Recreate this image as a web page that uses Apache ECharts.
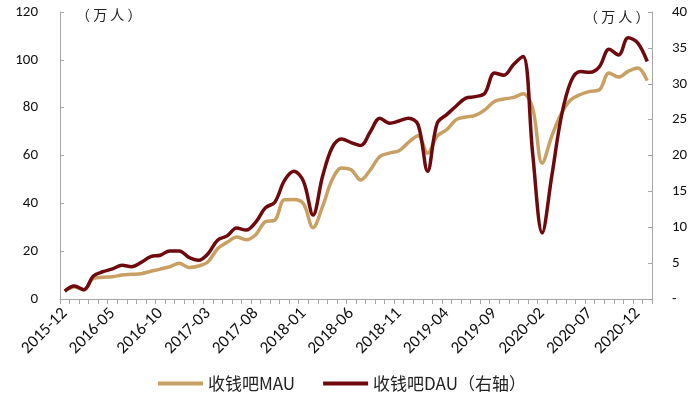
<!DOCTYPE html>
<html>
<head>
<meta charset="utf-8">
<script src="https://cdn.jsdelivr.net/npm/echarts@6/dist/echarts.min.js"></script>
<style>
  html, body { margin: 0; padding: 0; background: #fff; }
  #main { width: 700px; height: 396px; }
</style>
</head>
<body>
<div id="main"></div>
<script>
// 月份 2015-12 ~ 2021-01
var months = [];
for (var y = 2015, m = 12; months.length < 62; ) {
  months.push(y + '-' + (m < 10 ? '0' + m : m));
  m++;
  if (m > 12) { m = 1; y++; }
}

// 收钱吧MAU（万人，左轴）
var mau = [
  3.3, 5.0, 3.8, 8.6, 9.1, 9.3, 10.0, 10.3, 10.6, 11.6,
  12.5, 13.5, 14.9, 13.2, 13.8, 15.6, 21.0, 23.7, 25.9, 24.8,
  26.9, 32.3, 33.0, 41.5, 41.6, 39.8, 29.8, 38.7, 49.9, 54.8,
  54.0, 49.8, 54.0, 59.6, 61.0, 62.0, 65.5, 68.3, 61.0, 68.1,
  70.8, 75.0, 76.1, 76.8, 79.1, 82.6, 83.6, 84.3, 85.8, 79.8,
  56.8, 68.0, 77.5, 83.3, 85.5, 86.8, 87.5, 94.5, 92.8, 95.2,
  96.6, 91.3
];

// 收钱吧DAU（万人，右轴）
var dau = [
  1.1, 1.8, 1.3, 3.2, 3.8, 4.2, 4.7, 4.5, 5.1, 5.9,
  6.1, 6.7, 6.7, 5.8, 5.4, 6.3, 8.2, 8.8, 9.9, 9.6,
  10.7, 12.7, 13.5, 16.5, 17.8, 16.4, 11.7, 17.1, 21.1, 22.3,
  21.8, 21.4, 23.3, 25.2, 24.5, 24.8, 25.2, 24.3, 17.8, 24.5,
  25.7, 26.9, 28.0, 28.2, 28.7, 31.5, 31.2, 32.7, 33.8, 20.3,
  9.2, 17.1, 25.4, 30.3, 31.7, 31.6, 32.4, 34.8, 34.0, 36.4,
  35.7, 33.1
];

var seriesNames = ['收钱吧MAU', '收钱吧DAU（右轴）'];
var unitText = '（ 万 人 ）';

var numFont = 'Carlito, Lato, "Noto Sans", sans-serif';
var cjkFont = '"Noto Sans CJK SC", Lato, sans-serif';
var axisGray = '#A6A6A6';

var chart = echarts.init(document.getElementById('main'));

var option = {
  backgroundColor: '#fff',
  animation: false,
  color: ['#C9A063', '#6E0A0E'],
  grid: { left: 60, right: 48, top: 12, bottom: 97, containLabel: false },
  legend: {
    left: 153,
    top: 370,
    itemWidth: 45,
    itemHeight: 4,
    itemGap: 28,
    icon: 'rect',
    textStyle: { fontFamily: cjkFont, fontSize: 17, color: '#222' },
    data: seriesNames
  },
  graphic: [
    { type: 'text', left: 76, top: 8,
      style: { text: unitText, font: '14px ' + cjkFont, fill: '#222' } },
    { type: 'text', left: 584, top: 10,
      style: { text: unitText, font: '14px ' + cjkFont, fill: '#222' } }
  ],
  xAxis: {
    type: 'category',
    data: months,
    boundaryGap: true,
    axisLine: { lineStyle: { color: axisGray, width: 1 } },
    axisTick: { show: true, interval: 0, length: 5, lineStyle: { color: axisGray } },
    axisLabel: {
      interval: 4,
      rotate: 45,
      margin: 12,
      color: '#111',
      fontFamily: numFont,
      fontSize: 17
    },
    splitLine: { show: false }
  },
  yAxis: [
    {
      type: 'value',
      min: 0, max: 120, interval: 20,
      axisLine: { show: true, lineStyle: { color: axisGray } },
      axisTick: { show: true, inside: true, length: 4, lineStyle: { color: axisGray } },
      axisLabel: { margin: 22, color: '#111', fontFamily: numFont, fontSize: 15 },
      splitLine: { show: false }
    },
    {
      type: 'value',
      min: 0, max: 40, interval: 5,
      position: 'right',
      axisLine: { show: true, lineStyle: { color: axisGray } },
      axisTick: { show: true, inside: true, length: 4, lineStyle: { color: axisGray } },
      axisLabel: {
        margin: 20, color: '#111', fontFamily: numFont, fontSize: 15,
        formatter: function (v) { return v === 0 ? '-' : v; }
      },
      splitLine: { show: false }
    }
  ],
  series: [
    {
      name: seriesNames[0],
      type: 'line',
      yAxisIndex: 0,
      data: mau,
      smooth: 0.35,
      symbol: 'none',
      lineStyle: { width: 3.5 },
      z: 2
    },
    {
      name: seriesNames[1],
      type: 'line',
      yAxisIndex: 1,
      data: dau,
      smooth: 0.35,
      symbol: 'none',
      lineStyle: { width: 3.5 },
      z: 3
    }
  ]
};

chart.setOption(option);
</script>
</body>
</html>
